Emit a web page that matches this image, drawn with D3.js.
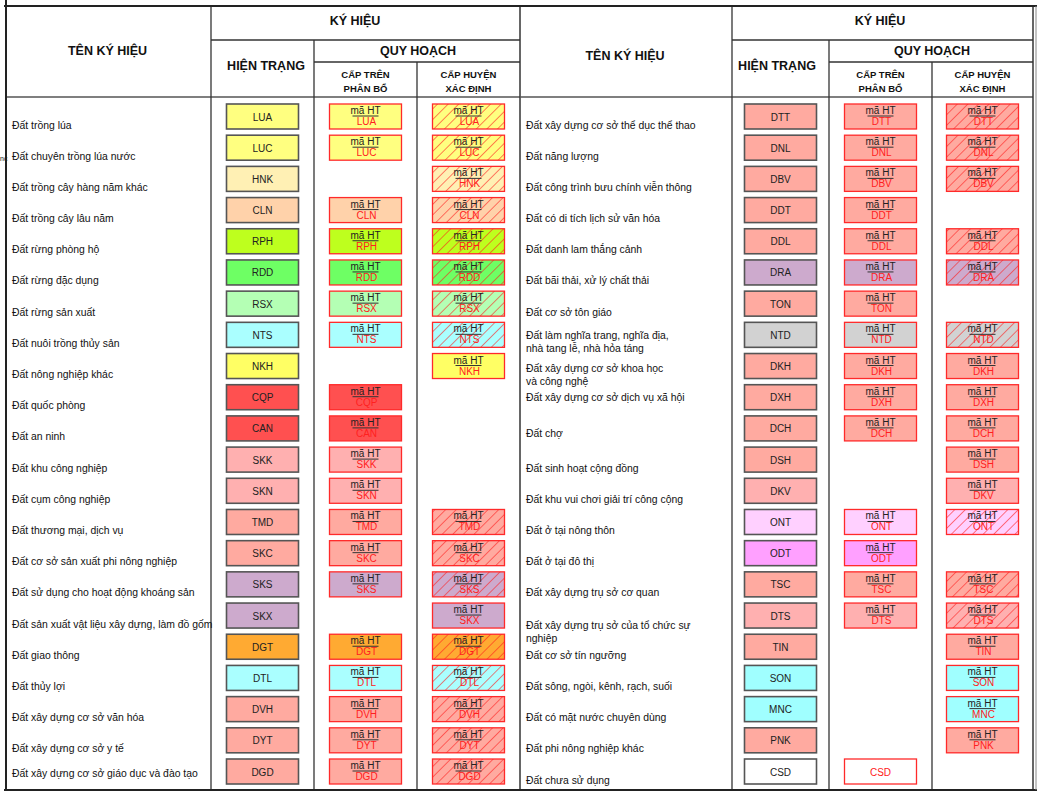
<!DOCTYPE html>
<html><head><meta charset="utf-8">
<script src="https://cdn.jsdelivr.net/npm/d3@7"></script>
<style>
html,body{margin:0;padding:0;background:#fff;}
svg{display:block;font-family:"Liberation Sans",Arial,sans-serif;}
</style></head>
<body><svg id="c" width="1037" height="792"></svg>
<script>
// ---------- DATA ----------
const leftNames = ["Đất trồng lúa","Đất chuyên trồng lúa nước","Đất trồng cây hàng năm khác","Đất trồng cây lâu năm","Đất rừng phòng hộ","Đất rừng đặc dụng","Đất rừng sản xuất","Đất nuôi trồng thủy sản","Đất nông nghiệp khác","Đất quốc phòng","Đất an ninh","Đất khu công nghiệp","Đất cụm công nghiệp","Đất thương mại, dịch vụ","Đất cơ sở sản xuất phi nông nghiệp","Đất sử dụng cho hoạt động khoáng sản","Đất sản xuất vật liệu xây dựng, làm đồ gốm","Đất giao thông","Đất thủy lợi","Đất xây dựng cơ sở văn hóa","Đất xây dựng cơ sở y tế","Đất xây dựng cơ sở giáo dục và đào tạo"];
const leftCodes = ["LUA","LUC","HNK","CLN","RPH","RDD","RSX","NTS","NKH","CQP","CAN","SKK","SKN","TMD","SKC","SKS","SKX","DGT","DTL","DVH","DYT","DGD"];
const leftColors = ["#ffff80","#ffff80","#fff0b4","#ffd2aa","#beff1e","#6eff64","#b4ffb4","#aaffff","#ffff64","#ff5050","#ff5050","#ffb0b0","#ffb0b0","#ffaaa0","#ffaaa0","#cdaacd","#cdaacd","#ffaa32","#aaffff","#ffaaa0","#ffaaa0","#ffaaa0"];
// cấp trên phân bổ: 1 = có ký hiệu
const leftTren = [1,1,0,1,1,1,1,1,0,1,1,1,1,1,1,1,0,1,1,1,1,1];
// cấp huyện xác định: "h" = gạch chéo, "p" = nền phẳng, "" = không có
const leftHuyen = ["h","h","h","h","h","h","h","h","p","","","","","h","h","h","p","h","h","h","h","h"];

const rightNames = ["Đất xây dựng cơ sở thể dục thể thao","Đất năng lượng","Đất công trình bưu chính viễn thông","Đất có di tích lịch sử văn hóa","Đất danh lam thắng cảnh","Đất bãi thải, xử lý chất thải","Đất cơ sở tôn giáo","Đất làm nghĩa trang, nghĩa địa,\nnhà tang lễ, nhà hỏa táng","Đất xây dựng cơ sở khoa học\nvà công nghệ","Đất xây dựng cơ sở dịch vụ xã hội","Đất chợ","Đất sinh hoạt cộng đồng","Đất khu vui chơi giải trí công cộng","Đất ở tại nông thôn","Đất ở tại đô thị","Đất xây dựng trụ sở cơ quan","Đất xây dựng trụ sở của tổ chức sự\nnghiệp","Đất cơ sở tín ngưỡng","Đất sông, ngòi, kênh, rạch, suối","Đất có mặt nước chuyên dùng","Đất phi nông nghiệp khác","Đất chưa sử dụng"];
const rightCodes = ["DTT","DNL","DBV","DDT","DDL","DRA","TON","NTD","DKH","DXH","DCH","DSH","DKV","ONT","ODT","TSC","DTS","TIN","SON","MNC","PNK","CSD"];
const rightColors = ["#ffaaa0","#ffaaa0","#ffaaa0","#ffaaa0","#ffaaa0","#cdaacd","#ffaaa0","#d2d2d2","#ffaaa0","#ffaaa0","#ffaaa0","#ffaaa0","#ffb0b0","#ffd0ff","#ffa0ff","#ffaaa0","#ffb0b0","#ffaaa0","#a0ffff","#a0ffff","#ffaaa0","#ffffff"];
const rightTren = [1,1,1,1,1,1,1,1,1,1,1,0,0,1,1,1,1,0,0,0,0,2]; // 2 = chỉ mã, không "mã HT"
const rightHuyen = ["h","h","h","","h","h","","h","p","p","p","p","p","h","","h","h","p","p","p","p",""];

const headers = {name:"TÊN KÝ HIỆU", kh:"KÝ HIỆU", ht:"HIỆN TRẠNG", qh:"QUY HOẠCH", tren:["CẤP TRÊN","PHÂN BỔ"], huyen:["CẤP HUYỆN","XÁC ĐỊNH"], sub:"mã HT"};

// ---------- LAYOUT ----------
const svg = d3.select("#c");
const defs = svg.append("defs");
defs.append("pattern").attr("id","hatch").attr("patternUnits","userSpaceOnUse")
  .attr("width",7.5).attr("height",7.5).attr("patternTransform","rotate(45)")
  .append("line").attr("x1",0).attr("y1",0).attr("x2",0).attr("y2",7.5)
  .attr("stroke","#ff1a1a").attr("stroke-width",1.1);

const tables = [
  {names:leftNames,codes:leftCodes,colors:leftColors,tren:leftTren,huyen:leftHuyen,
   cols:[6,211,314,417,520], nameY:51, khX:355, htX:266, shift:{DGD:-6.5}},
  {names:rightNames,codes:rightCodes,colors:rightColors,tren:rightTren,huyen:rightHuyen,
   cols:[520,732,829,932,1033], nameY:56, khX:880, htX:777, shift:{NTD:-7.5,DKH:-6,DXH:-8,DCH:-3,DTS:1.5}}
];

const yTop = 6, yBot = 790, hdr1 = 40, hdr2 = 62, hdrB = 97;
const BW = 72, BH = 25;

tables.forEach(t => {
  const n = t.codes.length;
  const y = d3.scaleLinear().domain([0,n-1]).range([116.5,771.5]);
  const c = t.cols;
  const colC = i => (c[i]+c[i+1])/2;

  const g = svg.append("g");
  const L = (x1,y1,x2,y2,w,col) => g.append("line").attr("x1",x1).attr("y1",y1).attr("x2",x2).attr("y2",y2)
      .attr("stroke",col||"#333").attr("stroke-width",w||1.3);
  L(c[1],hdr1,c[4],hdr1);
  L(c[2],hdr2,c[4],hdr2);
  L(c[0],hdrB,c[4],hdrB,1.6,"#555");
  L(c[1],yTop,c[1],yBot);
  L(c[2],hdr1,c[2],yBot);
  L(c[3],hdr2,c[3],yBot);
  L(c[4],yTop,c[4],yBot,1.5);

  const T = (x,yy,s,size,bold,anchor) => g.append("text").attr("x",x).attr("y",yy).text(s)
      .attr("font-size",size).attr("font-weight",bold?"bold":"normal").attr("text-anchor",anchor||"middle")
      .attr("dominant-baseline","central").attr("fill","#111");
  T(colC(0)-1, t.nameY, headers.name, 12.5, true);
  T(t.khX, 21, headers.kh, 12.5, true);
  T(t.htX, 66, headers.ht, 12.5, true);
  T((c[2]+c[4])/2+1, 51, headers.qh, 12.5, true);
  T(colC(2), 74, headers.tren[0], 9.5, true); T(colC(2), 88, headers.tren[1], 9.5, true);
  T(colC(3), 74, headers.huyen[0], 9.5, true); T(colC(3), 88, headers.huyen[1], 9.5, true);

  t.codes.forEach((code,i) => {
    const cy = y(i);
    const lines = t.names[i].split("\n");
    const ly = cy + 8 + (t.shift[code]||0);
    const lt = g.append("text").attr("x",c[0]+6).attr("y",ly).attr("font-size",10.4).attr("fill","#111")
      .attr("dominant-baseline","central");
    lines.forEach((s,k)=> lt.append("tspan").attr("x",c[0]+6).attr("dy",k?13:0).text(s));

    const x1 = colC(1)-BW/2;
    g.append("rect").attr("x",x1).attr("y",cy-BH/2).attr("width",BW).attr("height",BH)
      .attr("fill",t.colors[i]).attr("stroke","#555").attr("stroke-width",1.6);
    g.append("text").attr("x",colC(1)).attr("y",cy+0.5).text(code).attr("font-size",10)
      .attr("text-anchor","middle").attr("dominant-baseline","central").attr("fill","#222");

    const planBox = (col, hatch, onlyCode) => {
      const bx = colC(col)-BW/2;
      g.append("rect").attr("x",bx).attr("y",cy-BH/2).attr("width",BW).attr("height",BH)
        .attr("fill",t.colors[i]).attr("stroke","#ff2a2a").attr("stroke-width",1.3);
      if (hatch) g.append("rect").attr("x",bx).attr("y",cy-BH/2).attr("width",BW).attr("height",BH)
        .attr("fill","url(#hatch)");
      if (onlyCode) {
        g.append("text").attr("x",colC(col)).attr("y",cy+0.5).text(code).attr("font-size",10)
          .attr("text-anchor","middle").attr("dominant-baseline","central").attr("fill","#ff2020");
        return;
      }
      g.append("text").attr("x",colC(col)).attr("y",cy-6).text(headers.sub).attr("font-size",10)
        .attr("text-anchor","middle").attr("dominant-baseline","central").attr("fill","#222");
      g.append("line").attr("x1",colC(col)-13).attr("x2",colC(col)+13).attr("y1",cy-0.5).attr("y2",cy-0.5)
        .attr("stroke","#333").attr("stroke-width",1);
      g.append("text").attr("x",colC(col)+1).attr("y",cy+5).text(code).attr("font-size",10)
        .attr("text-anchor","middle").attr("dominant-baseline","central").attr("fill","#ff2020");
    };
    if (t.tren[i]) planBox(2, false, t.tren[i]===2);
    if (t.huyen[i]) planBox(3, t.huyen[i]==="h", false);
  });
});

svg.append("text").attr("x",0).attr("y",158).text("nc").attr("font-size",7).attr("fill","#111").attr("dominant-baseline","central");
svg.append("line").attr("x1",4).attr("x2",1037).attr("y1",6).attr("y2",6).attr("stroke","#222").attr("stroke-width",2.2);
svg.append("line").attr("x1",6).attr("x2",6).attr("y1",0).attr("y2",791).attr("stroke","#222").attr("stroke-width",2);
svg.append("line").attr("x1",4).attr("x2",1037).attr("y1",790).attr("y2",790).attr("stroke","#222").attr("stroke-width",2.2);
svg.append("line").attr("x1",1036).attr("x2",1036).attr("y1",6).attr("y2",790).attr("stroke","#888").attr("stroke-width",1);
</script></body></html>
